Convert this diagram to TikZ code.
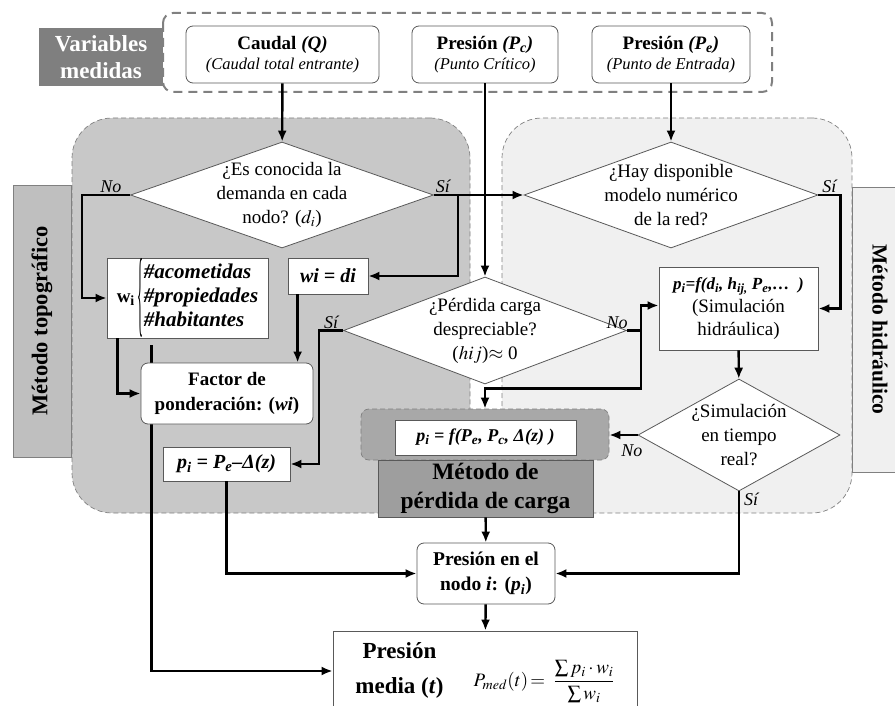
\documentclass[tikz,border=0pt]{standalone}
\usepackage{mathptmx}
\usepackage{fontspec}
\setmainfont{Liberation Serif}
\usetikzlibrary{arrows.meta,calc,shapes.geometric}

\definecolor{linegray}{HTML}{595959}
\definecolor{dashgray}{HTML}{808080}
\definecolor{topofill}{HTML}{C8C8C8}
\definecolor{hidrofill}{HTML}{F0F0F0}
\definecolor{perdfill}{HTML}{A8A8A8}
\definecolor{tagfill}{HTML}{7F7F7F}
\definecolor{sidefill}{HTML}{BFBFBF}

\begin{document}
\begin{tikzpicture}[x=1pt,y=-1pt,>=Latex,
  box/.style={draw=linegray,fill=white,line width=0.8pt,align=center,inner sep=1pt,
    font=\fontsize{19}{25}\selectfont},
  rbox/.style={box,rounded corners=7pt},
  decision/.style={diamond,draw=linegray,fill=white,line width=0.8pt,align=center,
    aspect=2,inner sep=-12pt,font=\fontsize{19}{24}\selectfont},
  flow/.style={-{Latex[length=11pt,width=9pt]},line width=2.4pt},
  zone/.style={draw=dashgray,dash pattern=on 5pt off 3pt,line width=0.7pt,rounded corners=40pt},
  sidebox/.style={draw=dashgray,line width=0.8pt,font=\fontsize{22.5}{26}\selectfont\bfseries},
  answer/.style={font=\fontsize{18}{20}\selectfont\itshape,inner sep=1pt},
  sub/.style={font=\fontsize{16.5}{18}\selectfont\itshape}]
  \useasboundingbox (0,0) rectangle (895,706);

  % medidas
  \draw[dashgray,line width=2pt,dash pattern=on 9pt off 6pt,rounded corners=10pt]
    (163,13) rectangle (772,92);
  \node[fill=tagfill,text=white,align=center,minimum width=124,minimum height=58,inner sep=0pt,
    font=\fontsize{23}{27}\selectfont\bfseries] (vars) at (101,57) {Variables\\medidas};
  \node[rbox,minimum width=193,minimum height=57] (caudal) at (282.5,54.5)
    {\textbf{Caudal \textit{(Q)}}\\[-5pt]{\fontsize{16.5}{18}\selectfont\itshape(Caudal total entrante)}};
  \node[rbox,minimum width=146,minimum height=57] (pc) at (485,54.5)
    {\textbf{Presión \textit{(P\textsubscript{c})}}\\[-5pt]{\fontsize{16.5}{18}\selectfont\itshape(Punto Crítico)}};
  \node[rbox,minimum width=158,minimum height=57] (pe) at (671,54.5)
    {\textbf{Presión \textit{(P\textsubscript{e})}}\\[-5pt]{\fontsize{16.5}{18}\selectfont\itshape(Punto de Entrada)}};

  % zonas de los dos métodos
  \node[zone,fill=topofill,minimum width=398,minimum height=395] (ztopo) at (271,315.5) {};
  \node[zone,fill=hidrofill,minimum width=350,minimum height=395] (zhidr) at (677,315.5) {};
  \node[sidebox,fill=sidefill,rotate=90,minimum width=272,minimum height=58] (mtopo)
    at (42,321) {Método topográfico};
  \node[sidebox,fill=hidrofill,rotate=-90,minimum width=285,minimum height=56,
    font=\fontsize{21.5}{26}\selectfont\bfseries] (mhidr) at (880,329.5) {Método hidráulico\hspace{18pt}};

  \node[decision,minimum width=303,minimum height=106] (q1) at (282,195)
    {¿Es conocida la\\demanda en cada\\nodo? ($d_i$)};
  \node[decision,minimum width=294,minimum height=106] (q2) at (671,195)
    {¿Hay disponible\\modelo numérico\\de la red?};
  \node[decision,minimum width=283,minimum height=107] (q3) at (485,330.5)
    {¿Pérdida carga\\despreciable?\\($hij$)$\approx$ 0};
  \node[decision,minimum width=202,minimum height=112,aspect=1.8] (q4) at (739,435)
    {¿Simulación\\en tiempo\\real?};

  \node[box,minimum width=161,minimum height=80,inner sep=0pt] (wbox) at (187.5,298)
    {\textbf{w\textsubscript{i}}\hspace{3pt}$\vcenter{\hbox{\resizebox{6pt}{66pt}{\{}}}$%
     {\fontsize{21}{24}\selectfont\begin{tabular}{@{}l@{}}\textbf{\textit{\#acometidas}}\\
      \textbf{\textit{\#propiedades}}\\\textbf{\textit{\#habitantes}}\end{tabular}}};
  \node[box,minimum width=80,minimum height=36,font=\fontsize{20}{24}\selectfont] (wdi) at (328,276)
    {\textbf{\textit{wi = di}}};
  \node[box,minimum width=304,minimum height=80,inner sep=0pt] (pmed) at (485,671)
    {\raisebox{10pt}{\fontsize{23}{28}\selectfont\begin{tabular}{@{}c@{}}\textbf{Presión}\\[7pt]
      \textbf{media (\textit{t})}\end{tabular}}\hspace{30pt}%
     {\fontsize{19}{22}\selectfont$P_{med}(t)\!=\;\displaystyle\frac{\textstyle\sum p_i\cdot w_i}{\textstyle\sum w_i}$}};
  \draw[flow] ([xshift=45pt,yshift=-7pt]wbox.south west) |- (pmed.west);
  \node[rbox,minimum width=172,minimum height=61] (factor) at (227,393.5)
    {\textbf{Factor de}\\\textbf{ponderación: (\textit{wi})}};
  \node[box,minimum width=127,minimum height=34,font=\fontsize{20}{22}\selectfont] (pipe) at (226.5,464)
    {\textbf{\textit{p\textsubscript{i} = P\textsubscript{e}–Δ(z)}}};
  \node[box,minimum width=159,minimum height=83,font=\fontsize{19}{23}\selectfont] (sim) at (738.5,308.5)
    {{\fontsize{17}{23}\selectfont\textbf{\textit{p\textsubscript{i}=f(d\textsubscript{i}, h\textsubscript{ij,} P\textsubscript{e},…~~)}}}\\(Simulación\\hidráulica)};

  % método de pérdida de carga
  \node[draw=dashgray,dash pattern=on 5pt off 3pt,line width=0.7pt,fill=perdfill,
    rounded corners=8pt,minimum width=248,minimum height=51] (grp) at (485,434.5) {};
  \node[box,minimum width=181,minimum height=35,font=\fontsize{18}{20}\selectfont] (pfun) at (485.5,437.5)
    {\textbf{\textit{p\textsubscript{i} = f(P\textsubscript{e}, P\textsubscript{c}, Δ(z) )}}};
  \node[draw=linegray,fill=perdfill!94!black,line width=0.8pt,align=center,minimum width=215,
    minimum height=57,inner sep=0pt,font=\fontsize{23.5}{29}\selectfont\bfseries] (mperd) at (485.5,488.5)
    {Método de\\pérdida de carga};

  \node[rbox,minimum width=138,minimum height=61,font=\fontsize{19.5}{25}\selectfont] (pnodo) at (486,573.5)
    {\textbf{Presión en el}\\\textbf{nodo \textit{i}: (\textit{p}\textsubscript{\textit{i}})}};

  % conectores
  \draw[flow] (caudal) -- (q1);
  \draw[flow] (pe) -- (q2);
  \draw[flow] (pc) -- (q3);
  \draw[flow] (q1.west) -- node[answer,above,pos=0.4] {No} ++(-48,0) |- (wbox.west);
  \draw[flow] (q1.east) -- node[answer,above,pos=0.1] {Sí} (q2.west);
  \draw[flow] ($(q1.east)+(24,0)$) |- (wdi.east);
  \draw[flow] ([xshift=10pt]wdi.south west) -- ([xshift=10pt]wdi.south west |- factor.north);
  \draw[flow] ([xshift=11pt]wbox.south west) |- (factor.west);
  \draw[flow] (q2.east) -- node[answer,above] {Sí} ++(22,0) |- (sim.east);
  \draw[flow] (q3.west) -- node[answer,above] {Sí} ++(-24,0) |- (pipe.east);
  \draw[flow] (q3.east) -- node[answer,above left,pos=0,xshift=3pt] {No} ++(14,0) |- ([yshift=3pt]sim.west);
  \draw[flow] ($(q3.east)+(14,0)$) |- ($(q3.south)+(0,4)$) -- (grp.north);
  \draw[flow] (sim) -- (q4);
  \draw[flow] (q4.west) -- node[answer,below,pos=0.2,yshift=-8pt] {No} (q4.west -| grp.east);
  \draw[flow] (q4.south) |- (pnodo.east);
  \node[answer,anchor=north west] (si4) at ([xshift=4pt]q4.south) {Sí};
  \draw[flow] (mperd) -- (pnodo);
  \draw[flow] (pipe.south) |- (pnodo.west);
  \draw[flow] (pnodo) -- (pmed);
\end{tikzpicture}
\end{document}
